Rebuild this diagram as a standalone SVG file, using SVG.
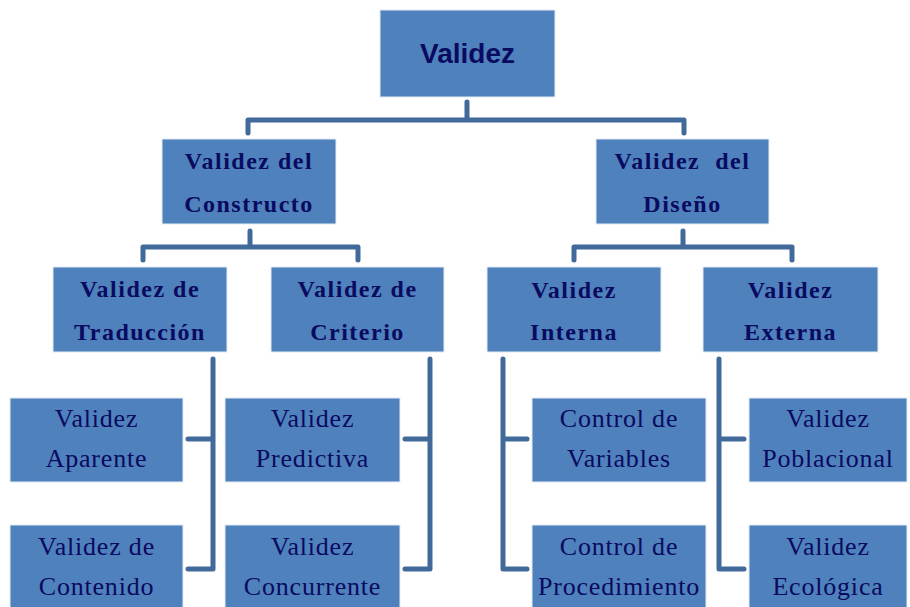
<svg xmlns="http://www.w3.org/2000/svg" width="910" height="607" viewBox="0 0 910 607">
<style>
.box{fill:#4F81BD;stroke:#E4ECF5;stroke-width:1}
.c{fill:none;stroke:#41699A;stroke-width:5;stroke-linecap:round;stroke-linejoin:round}
.t0{font-family:"Liberation Sans",Arial,sans-serif;font-weight:bold;font-size:28px;fill:#0A0A60;text-anchor:middle}
.tb{font-family:"Liberation Serif","Times New Roman",serif;font-weight:bold;font-size:24px;letter-spacing:1.5px;fill:#0A0A60;text-anchor:middle}
.tr{font-family:"Liberation Serif","Times New Roman",serif;font-size:26px;letter-spacing:0.8px;fill:#0A0A60;text-anchor:middle}
</style>
<rect width="910" height="607" fill="#fff"/>
<g id="connectors">
<path class="c" d="M467,102 V120 M248,133 V120 H684 V133"/>
<path class="c" d="M250,231 V247 M143,260 V247 H358 V260"/>
<path class="c" d="M683,231 V247 M574,260 V247 H792 V260"/>
<path class="c" d="M213,359 V569 H188 M213,439 H188"/>
<path class="c" d="M430,359 V569 H405 M430,439 H405"/>
<path class="c" d="M503,359 V569 H527 M503,439 H527"/>
<path class="c" d="M719,359 V569 H744 M719,439 H744"/>
</g>
<g id="n-validez"><rect class="box" x="380" y="10" width="175" height="87"/><text class="t0" x="467.5" y="63">Validez</text></g>
<g id="n-constructo"><rect class="box" x="162" y="139" width="174" height="85"/><text class="tb" x="249" y="169">Validez del</text><text class="tb" x="249" y="212">Constructo</text></g>
<g id="n-diseno"><rect class="box" x="596" y="139" width="173" height="85"/><text class="tb" x="682.5" y="169" xml:space="preserve">Validez  del</text><text class="tb" x="682.5" y="212">Diseño</text></g>
<g id="n-traduccion"><rect class="box" x="53" y="267" width="174" height="85"/><text class="tb" x="140" y="297">Validez de</text><text class="tb" x="140" y="340">Traducción</text></g>
<g id="n-criterio"><rect class="box" x="271" y="267" width="173" height="85"/><text class="tb" x="357.5" y="297">Validez de</text><text class="tb" x="357.5" y="340">Criterio</text></g>
<g id="n-interna"><rect class="box" x="487" y="267" width="174" height="85"/><text class="tb" x="574" y="298">Validez</text><text class="tb" x="574" y="340">Interna</text></g>
<g id="n-externa"><rect class="box" x="703" y="267" width="175" height="85"/><text class="tb" x="790.5" y="298">Validez</text><text class="tb" x="790.5" y="340">Externa</text></g>
<g id="n-aparente"><rect class="box" x="10" y="398" width="173" height="84"/><text class="tr" x="96.5" y="427">Validez</text><text class="tr" x="96.5" y="467">Aparente</text></g>
<g id="n-contenido"><rect class="box" x="10" y="525" width="173" height="90"/><text class="tr" x="96.5" y="555">Validez de</text><text class="tr" x="96.5" y="595">Contenido</text></g>
<g id="n-predictiva"><rect class="box" x="225" y="398" width="175" height="84"/><text class="tr" x="312.5" y="427">Validez</text><text class="tr" x="312.5" y="467">Predictiva</text></g>
<g id="n-concurrente"><rect class="box" x="225" y="525" width="175" height="90"/><text class="tr" x="312.5" y="555">Validez</text><text class="tr" x="312.5" y="595">Concurrente</text></g>
<g id="n-variables"><rect class="box" x="532" y="398" width="174" height="84"/><text class="tr" x="619" y="427">Control de</text><text class="tr" x="619" y="467">Variables</text></g>
<g id="n-procedimiento"><rect class="box" x="532" y="525" width="174" height="90"/><text class="tr" x="619" y="555">Control de</text><text class="tr" x="619" y="595">Procedimiento</text></g>
<g id="n-poblacional"><rect class="box" x="749" y="398" width="158" height="84"/><text class="tr" x="828" y="427">Validez</text><text class="tr" x="828" y="467">Poblacional</text></g>
<g id="n-ecologica"><rect class="box" x="749" y="525" width="158" height="90"/><text class="tr" x="828" y="555">Validez</text><text class="tr" x="828" y="595">Ecológica</text></g>
</svg>
